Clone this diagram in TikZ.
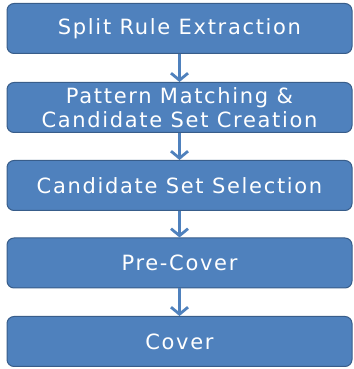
\documentclass[tikz,border=0pt]{standalone}
\usepackage{fontspec}
\setmainfont{DejaVu Sans}[LetterSpace=8]
\usetikzlibrary{arrows.meta}

\definecolor{stepBlue}{HTML}{4F81BD}
\definecolor{stepEdge}{HTML}{385D8A}

\tikzset{
    stepbox/.style={draw=stepEdge, fill=stepBlue, line width=1pt, rounded corners=7pt,
        minimum width=345pt, minimum height=50pt, text=white, align=center,
        font=\fontsize{21}{24}\selectfont, inner sep=0pt},
    flow/.style={stepBlue, line width=2.8pt, -{Straight Barb[length=7pt,width=17pt]}}
}

\begin{document}
\begin{tikzpicture}[x=1pt, y=1pt]
    \useasboundingbox (0,0) rectangle (353,369);

    \node[stepbox] (split) at (179.5,340.5) {Split Rule Extraction};
    \node[stepbox] (match) at (179.5,261.5) {Pattern Matching \&\\Candidate Set Creation};
    \node[stepbox] (select) at (179.5,183.5) {Candidate Set Selection};
    \node[stepbox] (precover) at (179.5,106) {Pre-Cover};
    \node[stepbox] (cover) at (179.5,27.5) {Cover};

    \draw[flow] (split) -- (match);
    \draw[flow] (match) -- (select);
    \draw[flow] (select) -- (precover);
    \draw[flow] (precover) -- (cover);
\end{tikzpicture}
\end{document}
